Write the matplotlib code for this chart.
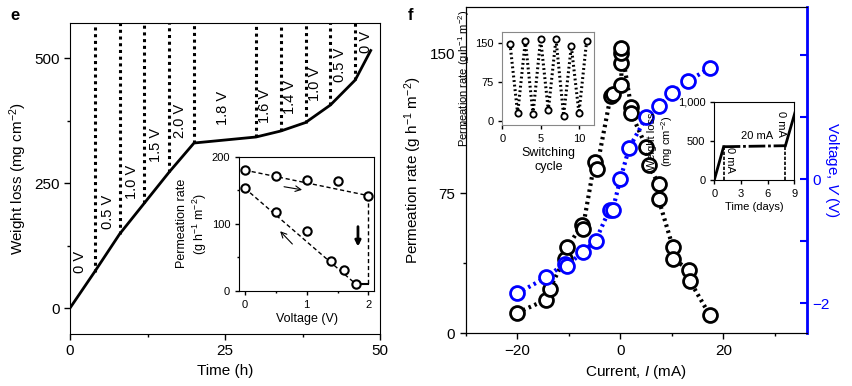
import matplotlib
matplotlib.use("Agg")
import matplotlib.pyplot as plt
from matplotlib.ticker import MultipleLocator

plt.rcParams['font.family'] = ['Liberation Sans', 'DejaVu Sans']
plt.rcParams['mathtext.fontset'] = 'custom'
plt.rcParams['mathtext.rm'] = 'Liberation Sans'
plt.rcParams['mathtext.it'] = 'Liberation Sans:italic'

BLUE = '#0000ff'

# ---------------- Panel e data ----------------
time_h = [0, 4, 8, 12, 16, 20, 30, 34, 38, 42, 46, 48.5]
weight_loss = [0, 73, 148, 210, 272, 330, 342, 354, 371, 406, 456, 515]
switch_times = [4, 8, 12, 16, 20, 30, 34, 38, 42, 46]
switch_loss = [73, 148, 210, 272, 330, 342, 354, 371, 406, 456]
volt_labels = ['0 V', '0.5 V', '1.0 V', '1.5 V', '2.0 V', '1.8 V', '1.6 V', '1.4 V', '1.0 V', '0.5 V', '0 V']
volt_label_x = [1.6, 6.2, 10.0, 13.8, 17.7, 24.7, 31.5, 35.5, 39.5, 43.5, 47.7]
volt_label_y = [92, 192, 252, 326, 374, 401, 405, 422, 448, 486, 532]

# inset e
volt_up = [0, 0.5, 1.0, 1.5, 2.0]
rate_up = [180, 172, 166, 164, 142]
volt_down = [0, 0.5, 1.0, 1.4, 1.6, 1.8]
rate_down = [153, 117, 90, 44, 32, 10]

# ---------------- Panel f data ----------------
current_p = [-20, -14.4, -13.7, -10.8, -10.3, -7.5, -7.3, -5.0, -4.6, -1.9, -1.5,
             0.2, 0.2, 0.2, 0.2, 2.1, 2.1, 5.0, 5.5, 7.4, 7.4, 10.2, 10.2, 13.3, 13.5, 17.3]
perm_rate = [11, 18, 24, 40, 46, 58, 56, 92, 88, 127, 128,
             133, 145, 150, 153, 121, 118, 100, 90, 80, 72, 46, 40, 34, 28, 10]
current_v = [-20, -14.4, -10.8, -10.3, -7.3, -4.8, -2.1, -1.5, 0, 1.7, 5.0, 7.4, 10.1, 13.2, 17.3]
voltage = [-1.84, -1.58, -1.36, -1.39, -1.17, -0.99, -0.49, -0.50, 0.0, 0.50, 0.99, 1.17, 1.38, 1.58, 1.78]

cycles = [1, 2, 3, 4, 5, 6, 7, 8, 9, 10, 11]
cycle_rate = [149, 14, 154, 13, 158, 20, 158, 10, 144, 15, 154]

days = [0, 1.05, 8.0, 9.1]
days_loss = [0, 425, 438, 872]

fig = plt.figure(figsize=(8.53, 3.86), dpi=100)

def style(ax, fs=11, length=4):
    ax.tick_params(direction='out', labelsize=fs, length=length, width=1)
    ax.tick_params(which='minor', direction='out', length=length * 0.6, width=1)

DOT = (0, (0.6, 0.9))

# ---------- Panel e ----------
ax_e = fig.add_axes([0.0821, 0.1347, 0.3634, 0.8057])
ax_e.plot(time_h, weight_loss, color='black', lw=2)
for t, w in zip(switch_times, switch_loss):
    ax_e.plot([t, t], [w, 570], color='black', lw=2.2, ls=(0, (1, 1.2)))
for lab, x, y in zip(volt_labels, volt_label_x, volt_label_y):
    ax_e.text(x, y, lab, rotation=90, ha='center', va='center', fontsize=10.5)
ax_e.set_xlim(0, 50)
ax_e.set_ylim(-52, 570)
ax_e.set_xticks([0, 25, 50])
ax_e.set_yticks([0, 250, 500])
ax_e.xaxis.set_minor_locator(MultipleLocator(12.5))
ax_e.yaxis.set_minor_locator(MultipleLocator(125))
style(ax_e)
ax_e.set_xlabel('Time (h)', fontsize=11)
ax_e.set_ylabel('Weight loss (mg cm$^{-2}$)', fontsize=11)
fig.text(0.012, 0.96, 'e', fontsize=12, fontweight='bold', ha='left', va='center')

# inset e
ax_ei = fig.add_axes([0.2805, 0.2461, 0.158, 0.3479])
ax_ei.plot([volt_up[0], volt_up[-1]], [rate_up[0], rate_up[-1]], color='black', lw=1, ls=(0, (3, 2)))
ax_ei.plot([volt_down[0], volt_down[-1]], [rate_down[0], rate_down[-1]], color='black', lw=1, ls=(0, (3, 2)))
ax_ei.plot([2.0, 2.0], [rate_up[-1], rate_down[-1]], color='black', lw=1, ls=(0, (3, 2)))
ax_ei.plot([1.82, 2.0], [rate_down[-1], rate_down[-1]], color='black', lw=1.5)
ax_ei.plot(volt_up, rate_up, 'o', mfc='white', mec='black', mew=1.5, ms=6)
ax_ei.plot(volt_down, rate_down, 'o', mfc='white', mec='black', mew=1.5, ms=6)
ax_ei.annotate('', xy=(0.97, 150), xytext=(0.59, 156),
               arrowprops=dict(arrowstyle='->', color='black', lw=0.8))
ax_ei.annotate('', xy=(0.54, 92), xytext=(0.8, 67),
               arrowprops=dict(arrowstyle='->', color='black', lw=0.8))
ax_ei.annotate('', xy=(1.83, 62), xytext=(1.83, 100),
               arrowprops=dict(arrowstyle='-|>', color='black', lw=2, mutation_scale=8))
ax_ei.set_xlim(-0.09, 2.09)
ax_ei.set_ylim(0, 200)
ax_ei.set_xticks([0, 1, 2])
ax_ei.set_yticks([0, 100, 200])
ax_ei.xaxis.set_minor_locator(MultipleLocator(0.5))
ax_ei.yaxis.set_minor_locator(MultipleLocator(50))
style(ax_ei, fs=8, length=3)
ax_ei.set_xlabel('Voltage (V)', fontsize=9, labelpad=2)
ax_ei.set_ylabel('Permeation rate\n(g h$^{-1}$ m$^{-2}$)', fontsize=9, labelpad=2)

# ---------- Panel f ----------
ax_f = fig.add_axes([0.546, 0.1365, 0.4, 0.8461])
ax_f.plot(current_p, perm_rate, color='black', lw=3, ls=DOT,
          marker='o', mfc='white', mec='black', mew=2, ms=10)
ax_f.set_xlim(-30, 36.2)
ax_f.set_ylim(0, 175)
ax_f.set_xticks([-20, 0, 20])
ax_f.set_xticklabels(['\u221220', '0', '20'])
ax_f.set_yticks([0, 75, 150])
ax_f.xaxis.set_minor_locator(MultipleLocator(10))
ax_f.yaxis.set_minor_locator(MultipleLocator(37.5))
style(ax_f)
ax_f.set_xlabel('Current, $I$ (mA)', fontsize=11)
ax_f.set_ylabel('Permeation rate (g h$^{-1}$ m$^{-2}$)', fontsize=11)
fig.text(0.478, 0.96, 'f', fontsize=12, fontweight='bold', ha='left', va='center')

ax_v = ax_f.twinx()
ax_v.plot(current_v, voltage, color=BLUE, lw=3, ls=DOT,
          marker='o', mfc='white', mec=BLUE, mew=2, ms=10)
ax_v.set_ylim(-2.48, 2.77)
ax_v.set_yticks([-2, 0, 2])
ax_v.set_yticklabels(['\u22122', '0', ''])
ax_v.yaxis.set_minor_locator(MultipleLocator(1))
ax_v.tick_params(axis='y', which='both', colors=BLUE, labelsize=11, direction='in',
                 width=1.5, length=5, pad=4)
ax_v.spines['right'].set_color(BLUE)
ax_v.spines['right'].set_linewidth(2)
ax_v.set_ylabel('Voltage, $V$ (V)', color=BLUE, fontsize=11, rotation=270, labelpad=8)

# inset f1
ax_f1 = fig.add_axes([0.5889, 0.6762, 0.1078, 0.2401])
ax_f1.plot(cycles, cycle_rate, color='black', lw=2.2, ls=DOT,
           marker='o', mfc='white', mec='black', mew=1.3, ms=4.5)
ax_f1.set_xlim(0, 12)
ax_f1.set_ylim(-8.3, 171)
ax_f1.set_xticks([0, 5, 10])
ax_f1.set_yticks([0, 75, 150])
for sp in ax_f1.spines.values():
    sp.set_color('#888888')
style(ax_f1, fs=8, length=3)
ax_f1.set_xlabel('Switching\ncycle', fontsize=9, labelpad=2)
ax_f1.set_ylabel('Permeation rate (g h$^{-1}$ m$^{-2}$)', fontsize=8, labelpad=2)

# inset f2
ax_f2 = fig.add_axes([0.8374, 0.5337, 0.0938, 0.2028])
ax_f2.plot(days[:2], days_loss[:2], color='black', lw=2)
ax_f2.plot(days[1:3], days_loss[1:3], color='black', lw=2, ls=(0, (6, 1, 1, 1)))
ax_f2.plot(days[2:], days_loss[2:], color='black', lw=2)
ax_f2.plot([days[1], days[1]], [0, days_loss[1]], color='black', lw=1.2, ls=(0, (2, 1)))
ax_f2.plot([days[2], days[2]], [0, days_loss[2]], color='black', lw=1.2, ls=(0, (2, 1)))
ax_f2.text(4.8, 560, '20 mA', fontsize=8, ha='center', va='center')
ax_f2.text(1.75, 250, '0 mA', fontsize=8, rotation=270, ha='center', va='center')
ax_f2.text(7.5, 720, '0 mA', fontsize=8, rotation=270, ha='center', va='center')
ax_f2.set_xlim(0, 9)
ax_f2.set_ylim(0, 1000)
ax_f2.set_xticks([0, 3, 6, 9])
ax_f2.set_yticks([0, 500, 1000])
ax_f2.set_yticklabels(['0', '500', '1,000'])
style(ax_f2, fs=8, length=3)
ax_f2.set_xlabel('Time (days)', fontsize=8, labelpad=2)
ax_f2.set_ylabel('Weight loss\n(mg cm$^{-2}$)', fontsize=8, labelpad=2)

fig.savefig('out.png', dpi=100)
